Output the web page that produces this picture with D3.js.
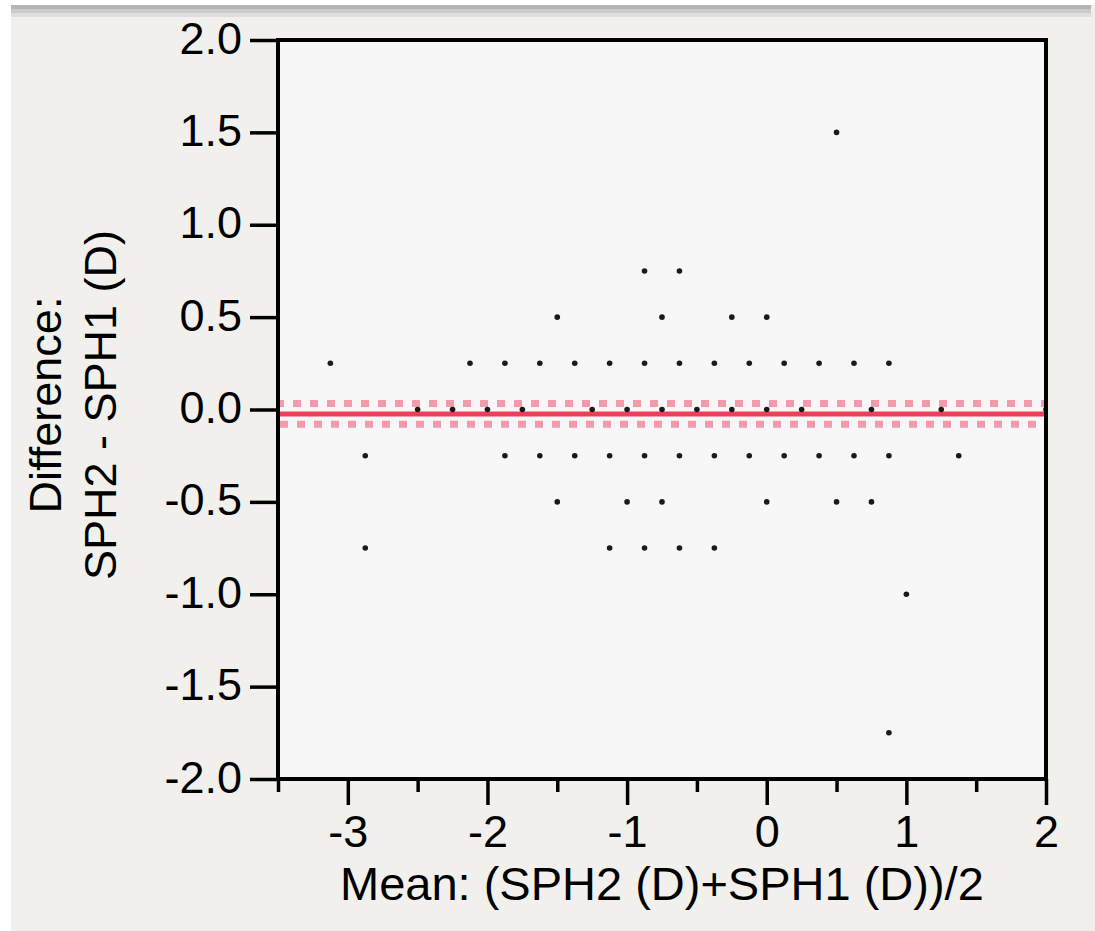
<!DOCTYPE html>
<html>
<head>
<meta charset="utf-8">
<script src="https://cdn.jsdelivr.net/npm/d3@7"></script>
<style>
  html, body { margin: 0; padding: 0; background: #ffffff; }
  svg { display: block; }
  text { font-family: "Liberation Sans", Arial, Helvetica, sans-serif; fill: #000; }
</style>
</head>
<body>
<svg id="chart" width="1095" height="931"></svg>
<script>
// ---- data ----
const meanValues = [
  0.5,
  -0.875, -0.625,
  -1.5, -0.75, -0.25, 0.0,
  -3.125, -2.125, -1.875, -1.625, -1.375, -1.125, -0.875, -0.625, -0.375, -0.125, 0.125, 0.375, 0.625, 0.875,
  -2.5, -2.25, -2.0, -1.75, -1.25, -1.0, -0.75, -0.5, -0.25, 0.0, 0.25, 0.75, 1.25, 2.0,
  -2.875, -1.875, -1.625, -1.375, -1.125, -0.875, -0.625, -0.375, -0.125, 0.125, 0.375, 0.625, 0.875, 1.375,
  -1.5, -1.0, -0.75, 0.0, 0.5, 0.75,
  -2.875, -1.125, -0.875, -0.625, -0.375,
  1.0,
  0.875
];
const diffValues = [
  1.5,
  0.75, 0.75,
  0.5, 0.5, 0.5, 0.5,
  0.25, 0.25, 0.25, 0.25, 0.25, 0.25, 0.25, 0.25, 0.25, 0.25, 0.25, 0.25, 0.25, 0.25,
  0, 0, 0, 0, 0, 0, 0, 0, 0, 0, 0, 0, 0, 0,
  -0.25, -0.25, -0.25, -0.25, -0.25, -0.25, -0.25, -0.25, -0.25, -0.25, -0.25, -0.25, -0.25, -0.25,
  -0.5, -0.5, -0.5, -0.5, -0.5, -0.5,
  -0.75, -0.75, -0.75, -0.75, -0.75,
  -1.0,
  -1.75
];
const meanDifference = -0.025;
const ciLower = -0.08;
const ciUpper = 0.033;

const xMajorTicks = [-3, -2, -1, 0, 1, 2];
const xMajorLabels = ["-3", "-2", "-1", "0", "1", "2"];
const xMinorTicks = [-3.5, -2.5, -1.5, -0.5, 0.5, 1.5];
const yTicks = [-2, -1.5, -1, -0.5, 0, 0.5, 1, 1.5, 2];
const yTickLabels = ["-2.0", "-1.5", "-1.0", "-0.5", "0.0", "0.5", "1.0", "1.5", "2.0"];
const xDomain = [-3.5, 2];
const yDomain = [-2, 2];
const xTitle = "Mean: (SPH2 (D)+SPH1 (D))/2";
const yTitleLines = ["Difference:", "SPH2 - SPH1 (D)"];

// ---- layout ----
const svg = d3.select("#chart");
const W = 1095, H = 931;
const plotLeft = 278, plotRight = 1046, plotTop = 40, plotBottom = 779;
const fontSize = 45;
const fontFam = '"Liberation Sans", Arial, Helvetica, sans-serif';

const x = d3.scaleLinear().domain(xDomain).range([plotLeft, plotRight]);
const y = d3.scaleLinear().domain(yDomain).range([plotBottom, plotTop]);

// backgrounds
svg.append("rect").attr("x", 0).attr("y", 0).attr("width", W).attr("height", H).attr("fill", "#ffffff");
svg.append("rect").attr("x", 11).attr("y", 5).attr("width", W - 11).attr("height", H - 5).attr("fill", "#f1f0ec");
svg.append("rect").attr("x", 11).attr("y", 5).attr("width", W - 15).attr("height", 4).attr("fill", "#b4b4b4");
svg.append("rect").attr("x", 11).attr("y", 9).attr("width", W - 15).attr("height", 4).attr("fill", "#cbcbcb");
svg.append("rect").attr("x", 11).attr("y", 13).attr("width", W - 15).attr("height", 4).attr("fill", "#dedede");

const px0 = x(xDomain[0]), px1 = x(xDomain[1]), py0 = y(yDomain[1]), py1 = y(yDomain[0]);

// plot area
svg.append("rect")
  .attr("x", px0).attr("y", py0)
  .attr("width", px1 - px0).attr("height", py1 - py0)
  .attr("fill", "#f7f7f7");

svg.append("clipPath").attr("id", "plotclip").append("rect")
  .attr("x", px0).attr("y", py0)
  .attr("width", px1 - px0).attr("height", py1 - py0);

const plot = svg.append("g").attr("clip-path", "url(#plotclip)");

// confidence interval lines (dotted)
plot.append("line")
  .attr("x1", px0).attr("x2", px1)
  .attr("y1", y(ciUpper)).attr("y2", y(ciUpper))
  .attr("stroke", "#f39aab").attr("stroke-width", 7)
  .attr("stroke-dasharray", "8,9").attr("stroke-dashoffset", 2);
plot.append("line")
  .attr("x1", px0).attr("x2", px1)
  .attr("y1", y(ciLower)).attr("y2", y(ciLower))
  .attr("stroke", "#f39aab").attr("stroke-width", 7)
  .attr("stroke-dasharray", "8,9").attr("stroke-dashoffset", -2);
// mean difference line
plot.append("line")
  .attr("x1", px0).attr("x2", px1)
  .attr("y1", y(meanDifference)).attr("y2", y(meanDifference))
  .attr("stroke", "#ef3e5b").attr("stroke-width", 5);

// points
const points = meanValues.map((m, i) => ({ m, d: diffValues[i] }));
plot.selectAll("circle.pt").data(points).enter().append("circle")
  .attr("class", "pt")
  .attr("cx", p => x(p.m)).attr("cy", p => y(p.d))
  .attr("r", 2.8).attr("fill", "#1a1a1a");

// axes
const yAxis = d3.axisLeft(y).tickValues(yTicks)
  .tickFormat((d, i) => yTickLabels[i]).tickSize(28).tickPadding(8);
const gy = svg.append("g").attr("transform", `translate(${plotLeft},0)`).call(yAxis);

const xAxis = d3.axisBottom(x).tickValues(xMajorTicks)
  .tickFormat((d, i) => xMajorLabels[i]).tickSize(26).tickPadding(10);
const gx = svg.append("g").attr("transform", `translate(0,${plotBottom})`).call(xAxis);

const xMinor = d3.axisBottom(x).tickValues(xMinorTicks).tickFormat("").tickSize(13);
const gxm = svg.append("g").attr("transform", `translate(0,${plotBottom})`).call(xMinor);

[gy, gx, gxm].forEach(g => {
  g.select(".domain").remove();
  g.selectAll(".tick line").attr("stroke", "#000").attr("stroke-width", 3.5);
  g.selectAll(".tick text").attr("font-size", fontSize)
    .style("font-family", fontFam).attr("fill", "#000");
});
gy.selectAll(".tick text").attr("dy", "0.29em");

// frame
svg.append("rect")
  .attr("x", px0).attr("y", py0)
  .attr("width", px1 - px0).attr("height", py1 - py0)
  .attr("fill", "none").attr("stroke", "#000").attr("stroke-width", 4);

// titles
svg.append("text")
  .attr("x", 340).attr("y", 900)
  .attr("font-size", 47)
  .style("font-family", fontFam)
  .text(xTitle);

const yCenter = 405;
svg.append("text")
  .attr("transform", `translate(61,${yCenter}) rotate(-90)`)
  .attr("text-anchor", "middle").attr("font-size", fontSize)
  .style("font-family", fontFam)
  .text(yTitleLines[0]);
svg.append("text")
  .attr("transform", `translate(116,${yCenter}) rotate(-90)`)
  .attr("text-anchor", "middle").attr("font-size", fontSize)
  .style("font-family", fontFam)
  .text(yTitleLines[1]);
</script>
</body>
</html>
